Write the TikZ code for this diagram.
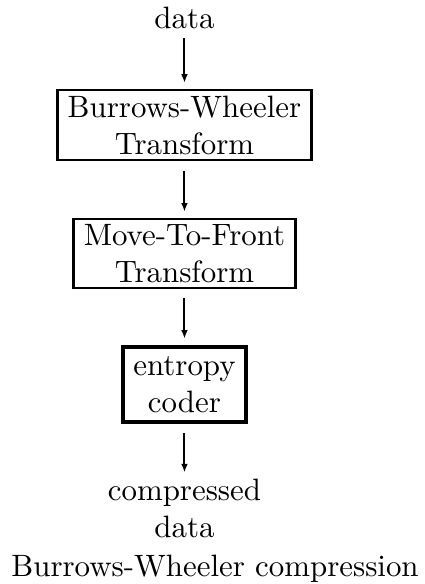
\documentclass[tikz,border=0pt]{standalone}
\usetikzlibrary{arrows.meta}

\tikzset{
  stage/.style={draw, line width=0.7pt, align=center, inner xsep=3.33pt, inner ysep=0pt},
  label/.style={align=center, inner sep=0pt},
  arr/.style={-{Latex[length=2.8pt,width=2.2pt]}, line width=0.65pt,
    shorten <=3pt, shorten >=2pt}
}

\begin{document}
\begin{tikzpicture}[x=1pt,y=1pt]
  \useasboundingbox (0,0) rectangle (137.5,-189);
  % input and the three stages
  \node[label, anchor=base] (in) at (59.7,-9.1) {data};
  \node[stage, minimum height=22.7pt] (bwt) at (59.7,-40.5)
    {Burrows-Wheeler\\Transform};
  \node[stage, minimum height=22.3pt] (mtf) at (59.7,-82)
    {Move-To-Front\\Transform};
  \node[stage, line width=1.3pt, minimum height=24.3pt] (coder)
    at (59.7,-124.4) {entropy\\coder};
  \node[label, anchor=north] (out) at (59.7,-154.9) {compressed\\data};
  % arrows
  \draw[arr] (in) -- (bwt);
  \draw[arr] (bwt) -- (mtf);
  \draw[arr] (mtf) -- (coder);
  \draw[arr] (coder) -- (out);
  % caption
  \node[label, anchor=base] (cap) at (69.6,-186.7) {Burrows-Wheeler compression};
\end{tikzpicture}
\end{document}
